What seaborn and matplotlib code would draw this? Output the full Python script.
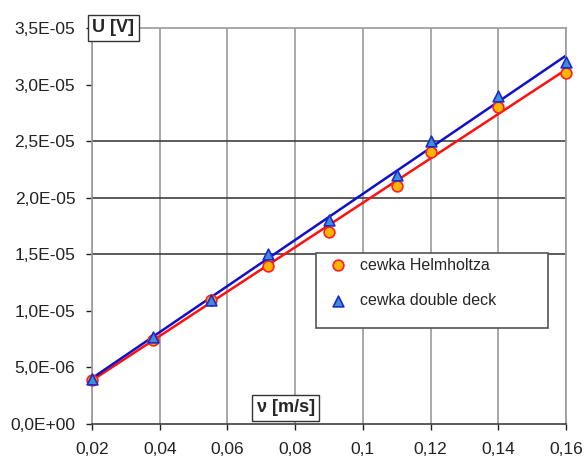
import numpy as np
import pandas as pd
import matplotlib
matplotlib.use("Agg")
import matplotlib.pyplot as plt
import seaborn as sns
from matplotlib.ticker import FuncFormatter
from matplotlib.patches import Rectangle

# data
v = [0.02, 0.038, 0.055, 0.072, 0.09, 0.11, 0.12, 0.14, 0.16]
u_helmholtz = [3.9e-06, 7.4e-06, 1.1e-05, 1.4e-05, 1.7e-05, 2.1e-05, 2.4e-05, 2.8e-05, 3.1e-05]
u_double = [4.0e-06, 7.7e-06, 1.1e-05, 1.5e-05, 1.8e-05, 2.2e-05, 2.5e-05, 2.9e-05, 3.2e-05]
x_ticks = [0.02, 0.04, 0.06, 0.08, 0.1, 0.12, 0.14, 0.16]
y_ticks = [0, 5e-06, 1e-05, 1.5e-05, 2e-05, 2.5e-05, 3e-05, 3.5e-05]
dark_grid = [1.5e-05, 2e-05, 2.5e-05]

df = pd.DataFrame({"v": v, "helm": u_helmholtz, "dd": u_double})

sns.set_style("white")
plt.rcParams['font.family'] = ['Liberation Sans', 'DejaVu Sans']

fig = plt.figure(figsize=(5.88, 4.59), dpi=100)
ax = fig.add_axes([0.1565, 0.0763, 0.8061, 0.8627])

# grid
for xt in x_ticks:
    ax.axvline(xt, color="#9a9a9a", lw=1.2, zorder=0)
for yt in dark_grid:
    ax.axhline(yt, color="#404040", lw=1.2, zorder=0)

# trend lines
sns.regplot(data=df, x="v", y="helm", scatter=False, ci=None, ax=ax,
            line_kws=dict(color="#ff1010", lw=1.8, zorder=2))
sns.regplot(data=df, x="v", y="dd", scatter=False, ci=None, ax=ax,
            line_kws=dict(color="#1010c8", lw=1.8, zorder=2))

# points
sns.scatterplot(data=df, x="v", y="helm", ax=ax, marker="o", s=60,
                color="#ffb400", edgecolor="#ff2020", linewidth=1.2,
                label="cewka Helmholtza", zorder=3, clip_on=False)
sns.scatterplot(data=df, x="v", y="dd", ax=ax, marker="^", s=60,
                color="#3f8fd0", edgecolor="#1a2ad0", linewidth=1.2,
                label="cewka double deck", zorder=4, clip_on=False)

ax.set_xlim(0.02, 0.16)
ax.set_ylim(0, 3.5e-05)
ax.set_xticks(x_ticks)
ax.set_yticks(y_ticks)
ax.xaxis.set_major_formatter(FuncFormatter(lambda x, p: f"{x:g}".replace(".", ",")))
ax.yaxis.set_major_formatter(FuncFormatter(lambda y, p: f"{y:.1E}".replace(".", ",")))
ax.tick_params(axis="both", labelsize=12.5, colors="#222222", length=4,
               direction="out", left=True, bottom=True, width=1)
ax.tick_params(axis="x", pad=9)
ax.tick_params(axis="y", pad=8)
ax.set_xlabel("")
ax.set_ylabel("")

for side in ["top", "right", "left"]:
    ax.spines[side].set_color("#9a9a9a")
    ax.spines[side].set_linewidth(1.2)
ax.spines["bottom"].set_color("#404040")
ax.spines["bottom"].set_linewidth(1.2)

# boxed axis labels
box = dict(boxstyle="square,pad=0.25", fc="white", ec="#333333", lw=1)
ax.text(0.0006, 1.0, "U [V]", transform=ax.transAxes, fontsize=13, fontweight="bold",
        ha="left", va="center", bbox=box, zorder=6)
ax.text(0.0686, 1.45e-06, "ν [m/s]", fontsize=13, fontweight="bold",
        ha="left", va="center", bbox=box, zorder=6)

# legend box (frame drawn separately to match size)
ax.add_patch(Rectangle((0.473, 0.242), 0.489, 0.19, transform=ax.transAxes,
                       fc="white", ec="#555555", lw=1.2, zorder=5))
leg = ax.legend(loc="upper left", bbox_to_anchor=(0.485, 0.42), fontsize=11.5,
                frameon=False, borderpad=0, labelspacing=1.3,
                handletextpad=0.4, borderaxespad=0)
leg.set_zorder(6)

fig.savefig("out.png", dpi=100)
